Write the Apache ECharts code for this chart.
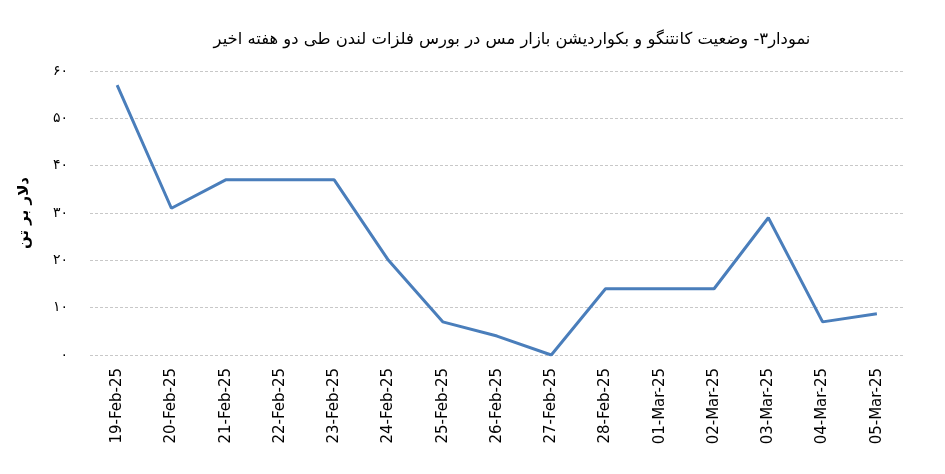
<!DOCTYPE html>
<html><head><meta charset="utf-8">
<script src="https://cdn.jsdelivr.net/npm/echarts@6/dist/echarts.min.js"></script>
<style>html,body{margin:0;padding:0;background:#fff}#c{width:945px;height:474px}</style>
</head><body><div id="c"></div>
<script>
const categories = ['19-Feb-25','20-Feb-25','21-Feb-25','22-Feb-25','23-Feb-25','24-Feb-25','25-Feb-25','26-Feb-25','27-Feb-25','28-Feb-25','01-Mar-25','02-Mar-25','03-Mar-25','04-Mar-25','05-Mar-25'];
const values = [57, 31, 37, 37, 37, 20, 7, 4, 0, 14, 14, 14, 29, 7, 8.7];
const yTickLabels = {0:'۰',10:'۱۰',20:'۲۰',30:'۳۰',40:'۴۰',50:'۵۰',60:'۶۰'};
const titleText = 'نمودار۳- وضعیت کانتنگو و بکواردیشن بازار مس در بورس فلزات لندن طی دو هفته اخیر';
const yName = 'دلار بر تن';

const chart = echarts.init(document.getElementById('c'));
chart.setOption({
  animation: false,
  title: {
    text: titleText, left: 507, top: 27, textAlign: 'center',
    textStyle: {fontFamily: 'DejaVu Sans', fontSize: 16.4, fontWeight: 'normal', color: '#000'}
  },
  grid: {left: 90, right: 41, top: 71, bottom: 119},
  xAxis: {
    type: 'category', data: categories, boundaryGap: true,
    axisLine: {show: false}, axisTick: {show: false},
    axisLabel: {rotate: 90, margin: 13, fontSize: 15, color: '#000', fontFamily: 'DejaVu Sans'}
  },
  yAxis: {
    type: 'value', min: 0, max: 60, interval: 10,
    name: yName, nameLocation: 'middle', nameGap: 58, nameRotate: 90,
    nameTextStyle: {fontFamily: 'DejaVu Sans', fontSize: 15, fontWeight: 'bold', color: '#000'},
    axisLine: {show: false}, axisTick: {show: false},
    axisLabel: {margin: 22, fontSize: 14, color: '#000', fontFamily: 'DejaVu Sans',
      formatter: v => yTickLabels[v] !== undefined ? yTickLabels[v] : ''},
    splitLine: {lineStyle: {color: '#c8c8c8', type: [3, 2], width: 1}}
  },
  series: [{
    type: 'line', data: values, symbol: 'none',
    lineStyle: {color: '#4A7EBB', width: 3}
  }]
});
</script></body></html>
